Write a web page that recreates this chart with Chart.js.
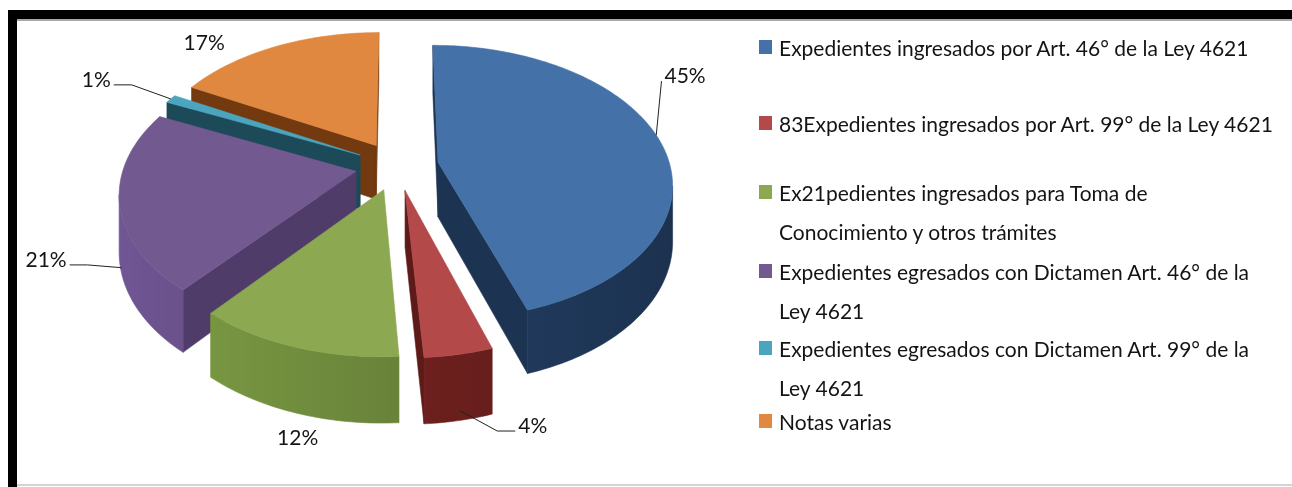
<!DOCTYPE html>
<html><head><meta charset="utf-8">
<script src="https://cdn.jsdelivr.net/npm/chart.js@4.4.0/dist/chart.umd.min.js"></script>
<style>
html,body{margin:0;padding:0;background:#fff;width:1292px;height:487px;overflow:hidden;}
#wrap{position:relative;width:1292px;height:487px;}
canvas{position:absolute;left:0;top:0;}
.bar{position:absolute;}
.item{position:absolute;left:759px;font-family:Lato,"Open Sans",sans-serif;font-size:21px;color:#141414;white-space:nowrap;}
.item .sw{position:absolute;left:0;width:13px;height:14px;}
.item .ln{position:absolute;left:20px;height:39px;line-height:39px;}
</style></head>
<body><div id="wrap">
<canvas id="c" width="1292" height="487"></canvas>
<div class="bar" style="left:8px;top:10px;width:1284px;height:9px;background:#000"></div>
<div class="bar" style="left:8px;top:10px;width:9px;height:477px;background:#000"></div>
<div class="bar" style="left:17px;top:19px;width:1275px;height:2px;background:#a8a8a8"></div>
<div class="bar" style="left:17px;top:484px;width:1275px;height:2px;background:#d4d4d4"></div>
<div id="legend"></div>
</div>
<script>
// ---- data ----
const categories = [
  ["Expedientes ingresados por Art. 46° de la Ley 4621"],
  ["83Expedientes ingresados por Art. 99° de la Ley 4621"],
  ["Ex21pedientes ingresados para Toma de", "Conocimiento y otros trámites"],
  ["Expedientes egresados con Dictamen Art. 46° de la", "Ley 4621"],
  ["Expedientes egresados con Dictamen Art. 99° de la", "Ley 4621"],
  ["Notas varias"]
];
const values = [45, 4, 12, 21, 1, 17];

// ---- styles ----
const topColors  = ["#4472A8", "#B4494A", "#8CA850", "#72598F", "#4BA5BE", "#E0883F"];
const sideColors = ["#223D61", "#6E201E", "#6A853A", "#5E487C", "#1E5566", "#7A3E12"];
const cutColors  = ["#1C3352", "#5E1A18", "#5A732E", "#4F3C69", "#1C4A58", "#733A10"];

// ---- layout ----
const P = {cx: 397, cy: 166, ax: 232, b: 135, h: 55, c: 0.146, explode: 0.18};
const labelAngle  = [61.8, 163.1, 192.0, 245.3, 296.2, 317.6];
const labelRadius = [1.409, 2.013, 2.06, 1.665, 1.445, 1.233];
const leaderAngle = [78, 169, null, 252, 297, null];
const leaderDepth = [0, 0.85, 0, 0.9, 0, 0];
const legendY = [47, 123, 192, 271, 348, 421];
const legendLineH = 39;

function proj(X, Z, d) {
  const s = 1 / (1 + P.c * Z);
  return [P.cx + P.ax * X * s, P.cy + (-P.b * Z + P.h * d) * s];
}
function shadeRGB(hex, f) {
  const n = parseInt(hex.slice(1), 16);
  const r = Math.min(255, Math.round(((n >> 16) & 255) * f));
  const g = Math.min(255, Math.round(((n >> 8) & 255) * f));
  const b = Math.min(255, Math.round((n & 255) * f));
  return `rgb(${r},${g},${b})`;
}
function area(pts) {
  let s = 0;
  for (let i = 0; i < pts.length; i++) {
    const a = pts[i], b = pts[(i + 1) % pts.length];
    s += a[0] * b[1] - b[0] * a[1];
  }
  return s / 2;
}
function poly(ctx, pts, col) {
  ctx.beginPath();
  ctx.moveTo(pts[0][0], pts[0][1]);
  for (let i = 1; i < pts.length; i++) ctx.lineTo(pts[i][0], pts[i][1]);
  ctx.closePath();
  ctx.fillStyle = col;
  ctx.fill();
  ctx.strokeStyle = col;
  ctx.lineWidth = 0.6;
  ctx.stroke();
}

const pie3d = {
  id: 'pie3d',
  beforeDatasetsDraw() { return false; },
  afterDraw(chart) {
    const ctx = chart.ctx;
    const meta = chart.getDatasetMeta(0);
    const total = values.reduce((a, b) => a + b, 0);
    const slices = meta.data.map((el, i) => {
      const pr = el.getProps(['startAngle', 'endAngle'], true);
      const t0 = pr.startAngle + Math.PI / 2, t1 = pr.endAngle + Math.PI / 2;
      const tm = (t0 + t1) / 2;
      return {i, t0, t1, tm, ox: P.explode * Math.sin(tm), oz: P.explode * Math.cos(tm)};
    });
    const order = slices.slice().sort((a, b) => Math.cos(b.tm) - Math.cos(a.tm));
    ctx.save();
    for (const sl of order) {
      const {i, t0, t1, ox, oz} = sl;
      const pt = (r, t, d) => proj(ox + r * Math.sin(t), oz + r * Math.cos(t), d);
      // cut faces
      const cuts = [
        [pt(0, t0, 0), pt(1, t0, 0), pt(1, t0, 1), pt(0, t0, 1)],
        [pt(1, t1, 0), pt(0, t1, 0), pt(0, t1, 1), pt(1, t1, 1)]
      ];
      for (const c of cuts) if (area(c) < 0) poly(ctx, c, cutColors[i]);
      // rim: find contiguous visible runs, fill each with one gradient polygon
      const N = Math.max(2, Math.ceil((t1 - t0) / (Math.PI / 180)));
      const vis = [];
      for (let k = 0; k < N; k++) {
        const ta = t0 + (t1 - t0) * k / N, tb = t0 + (t1 - t0) * (k + 1) / N;
        vis.push(area([pt(1, ta, 0), pt(1, tb, 0), pt(1, tb, 1), pt(1, ta, 1)]) < 0);
      }
      let k = 0;
      while (k < N) {
        if (!vis[k]) { k++; continue; }
        let e = k;
        while (e < N && vis[e]) e++;
        const topPts = [], botPts = [];
        for (let q = k; q <= e; q++) {
          const t = t0 + (t1 - t0) * q / N;
          topPts.push(pt(1, t, 0));
          botPts.push(pt(1, t, 1));
        }
        const all = topPts.concat(botPts.slice().reverse());
        const xs = topPts.map(p => p[0]);
        const xmin = Math.min(...xs), xmax = Math.max(...xs);
        let fill = shadeRGB(sideColors[i], 1);
        if (xmax - xmin > 1) {
          const g = ctx.createLinearGradient(xmin, 0, xmax, 0);
          for (let q = k; q <= e; q++) {
            const t = t0 + (t1 - t0) * q / N;
            const x = topPts[q - k][0];
            g.addColorStop(Math.max(0, Math.min(1, (x - xmin) / (xmax - xmin))), shadeRGB(sideColors[i], 1 - 0.2 * Math.sin(t)));
          }
          fill = g;
        }
        poly(ctx, all, fill);
        k = e;
      }
      const top = [pt(0, t0, 0)];
      for (let q = 0; q <= N; q++) top.push(pt(1, t0 + (t1 - t0) * q / N, 0));
      poly(ctx, top, topColors[i]);
    }
    // labels
    ctx.font = '21px Lato, "Open Sans", sans-serif';
    ctx.textBaseline = 'middle';
    ctx.textAlign = 'center';
    for (const sl of slices) {
      const i = sl.i;
      const txt = Math.round(values[i] / total * 100) + '%';
      const a = labelAngle[i] * Math.PI / 180;
      const lx = P.cx + P.ax * labelRadius[i] * Math.sin(a);
      const ly = P.cy - P.b * labelRadius[i] * Math.cos(a);
      ctx.fillStyle = '#141414';
      ctx.fillText(txt, lx, ly);
      if (leaderAngle[i] !== null) {
        const la = leaderAngle[i] * Math.PI / 180;
        const e = proj(sl.ox + Math.sin(la), sl.oz + Math.cos(la), leaderDepth[i]);
        const w = ctx.measureText(txt).width;
        const side = e[0] > lx ? 1 : -1;
        const sx = lx + side * (w / 2 + 3);
        const sy = ly + 5;
        ctx.beginPath();
        ctx.moveTo(sx, sy);
        if (Math.abs(e[0] - sx) > 40) ctx.lineTo(sx + side * 18, sy);
        ctx.lineTo(e[0], e[1]);
        ctx.strokeStyle = '#222';
        ctx.lineWidth = 1;
        ctx.stroke();
      }
    }
    ctx.restore();
  }
};

new Chart(document.getElementById('c'), {
  type: 'pie',
  data: {labels: categories, datasets: [{data: values, backgroundColor: topColors, borderWidth: 0}]},
  options: {
    responsive: false, animation: false, events: [],
    plugins: {legend: {display: false}, tooltip: {enabled: false}}
  },
  plugins: [pie3d]
});

// HTML legend
const lg = document.getElementById('legend');
categories.forEach((lines, i) => {
  const it = document.createElement('div');
  it.className = 'item';
  it.style.top = (legendY[i] - legendLineH / 2) + 'px';
  const sw = document.createElement('div');
  sw.className = 'sw';
  sw.style.background = topColors[i];
  sw.style.top = (legendLineH / 2 - 7) + 'px';
  it.appendChild(sw);
  lines.forEach((t, j) => {
    const ln = document.createElement('div');
    ln.className = 'ln';
    ln.style.top = (j * legendLineH) + 'px';
    ln.textContent = t;
    it.appendChild(ln);
  });
  lg.appendChild(it);
});
</script>
</body></html>
